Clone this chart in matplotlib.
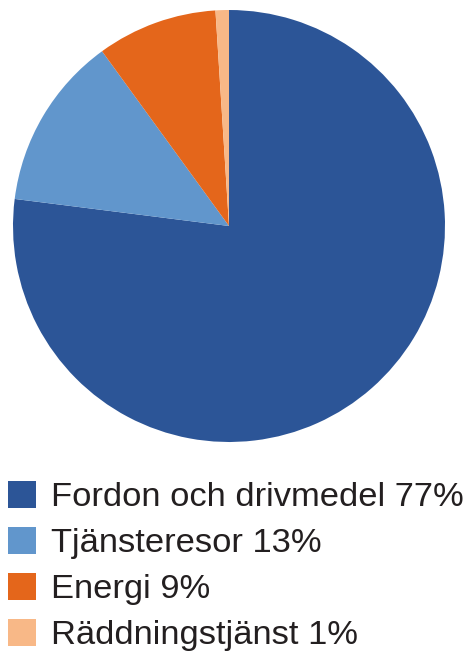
import matplotlib
matplotlib.use("Agg")
import matplotlib.pyplot as plt

labels = ["Fordon och drivmedel", "Tjänsteresor", "Energi", "Räddningstjänst"]
values = [77, 13, 9, 1]
colors = ["#2c5597", "#6196cc", "#e4661b", "#f8b887"]

W, H = 467, 651
fig = plt.figure(figsize=(W / 100, H / 100), dpi=100)
plt.rcParams['font.family'] = ['Liberation Sans', 'DejaVu Sans']

cx, cy, r = 229, 226, 216
ax = fig.add_axes([(cx - r) / W, (H - cy - r) / H, 2 * r / W, 2 * r / H])
wedges, _ = ax.pie(values, colors=colors, startangle=90, counterclock=False,
                   wedgeprops=dict(linewidth=0), radius=1)
ax.set_xlim(-1, 1)
ax.set_ylim(-1, 1)
ax.set_aspect('equal')
ax.axis('off')

fs = 24.8
leg = fig.legend(wedges, [f"{l} {v}%" for l, v in zip(labels, values)],
                 loc='upper left', bbox_to_anchor=(8 / W, 1 - 481 / H),
                 frameon=False, fontsize=fs, handlelength=0.81, handleheight=0.81,
                 handletextpad=0.45, labelspacing=0.40, borderaxespad=0, borderpad=0,
                 labelcolor="#231f20")
fig.savefig("out.png", dpi=100)
